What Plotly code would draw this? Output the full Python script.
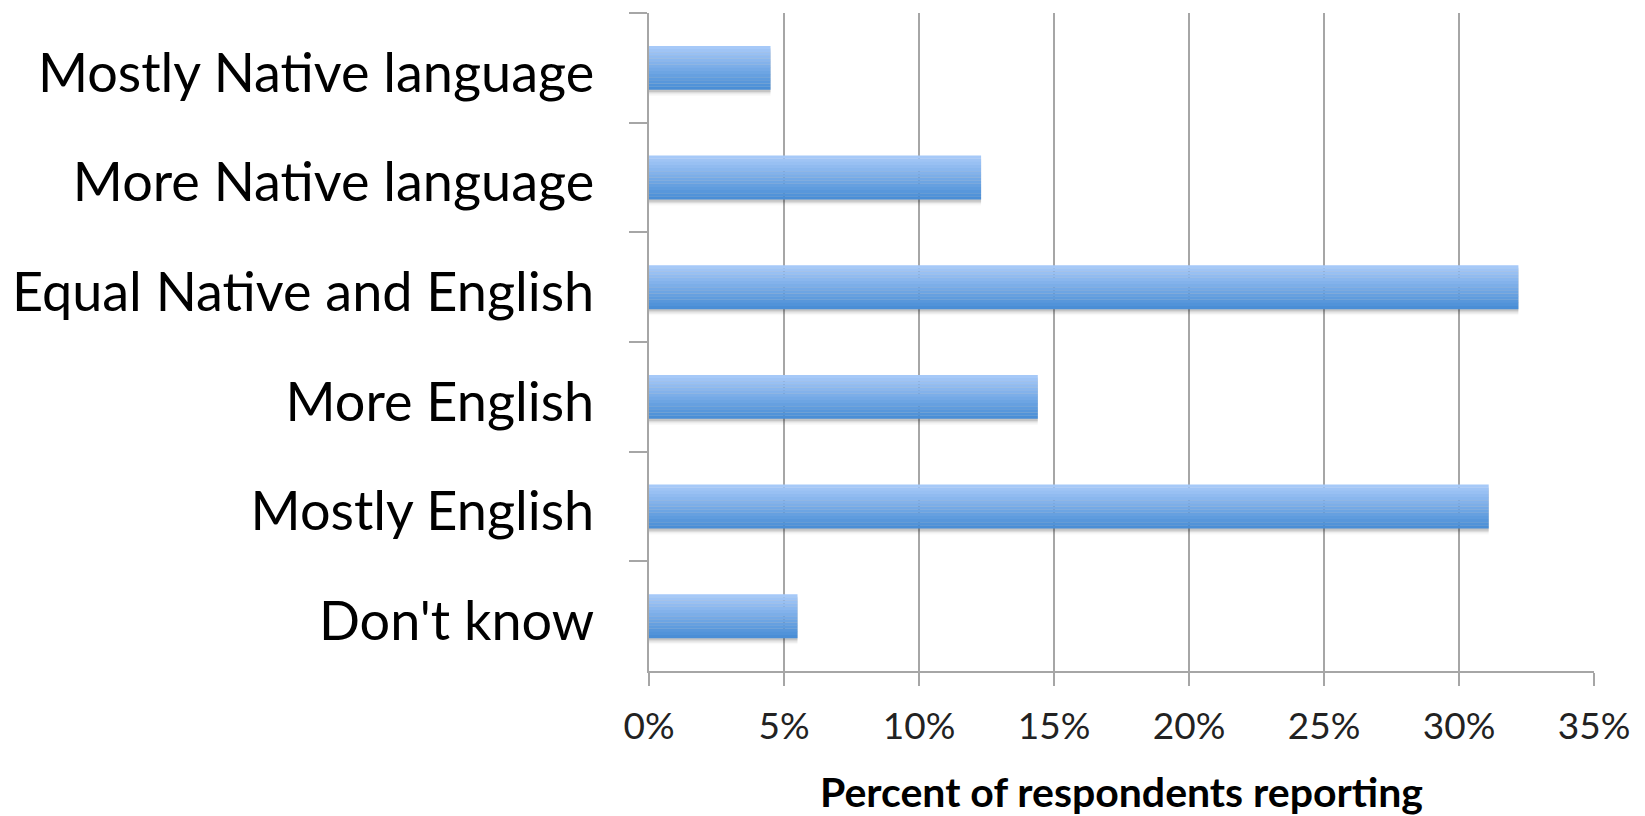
import plotly.graph_objects as go

# Survey responses: language used at home
categories = [
    "Mostly Native language",
    "More Native language",
    "Equal Native and English",
    "More English",
    "Mostly English",
    "Don't know",
]
percent = [4.5, 12.3, 32.2, 14.4, 31.1, 5.5]

x_ticks = [0, 5, 10, 15, 20, 25, 30, 35]
x_tick_labels = ["0%", "5%", "10%", "15%", "20%", "25%", "30%", "35%"]

BAR_W = 0.40          # bar thickness in category units
N_SLICES = 14         # bands used to shade each bar top-to-bottom
TOP_RGB = (166, 201, 248)
BOT_RGB = (74, 142, 214)
GRID = "#a6a6a6"
FONT = "Lato, 'Open Sans', sans-serif"

fig = go.Figure()

# soft drop shadow underneath each bar
for k, alpha in enumerate([0.10, 0.07, 0.045, 0.025]):
    fig.add_trace(go.Bar(
        y=categories, x=percent, orientation="h",
        offset=-BAR_W / 2 + 0.02 + 0.012 * k, width=BAR_W,
        marker=dict(color=f"rgba(0,0,0,{alpha})", line=dict(width=0)),
        hoverinfo="skip", showlegend=False,
    ))

# vertical gradient fill built from thin horizontal bands
h = BAR_W / N_SLICES
for i in range(N_SLICES):
    t = i / (N_SLICES - 1)
    r, g, b = (round(a + (c - a) * t) for a, c in zip(TOP_RGB, BOT_RGB))
    fig.add_trace(go.Bar(
        y=categories, x=percent, orientation="h",
        offset=-BAR_W / 2 + i * h, width=h * 1.02,
        marker=dict(color=f"rgb({r},{g},{b})", line=dict(width=0)),
        hoverinfo="skip" if i else None, showlegend=False,
    ))

fig.update_layout(
    width=1645, height=816,
    margin=dict(l=649, r=51, t=13, b=145),
    paper_bgcolor="white", plot_bgcolor="white",
    barmode="overlay", bargap=0.6,
    font=dict(family=FONT, color="black"),
    showlegend=False,
)

fig.update_xaxes(
    range=[0, 35], tickvals=x_ticks, ticktext=x_tick_labels,
    showgrid=True, gridcolor=GRID, gridwidth=2,
    showline=True, linecolor=GRID, linewidth=2,
    ticks="outside", ticklen=13, tickwidth=2, tickcolor=GRID,
    tickfont=dict(size=37, color="#222222"),
    ticklabelstandoff=9,
    zeroline=False, automargin=False,
    title=dict(text="<b>Percent of respondents reporting</b>",
               font=dict(size=41, color="black"), standoff=32),
)

fig.update_yaxes(
    categoryorder="array", categoryarray=categories, autorange="reversed",
    showgrid=False, showline=True, linecolor=GRID, linewidth=2,
    ticks="outside", tickson="boundaries", ticklen=18, tickwidth=2, tickcolor=GRID,
    tickfont=dict(size=54, color="black"),
    ticklabelstandoff=42, ticklabelshift=-5,
    zeroline=False, automargin=False,
)

fig.write_html("out.html")
